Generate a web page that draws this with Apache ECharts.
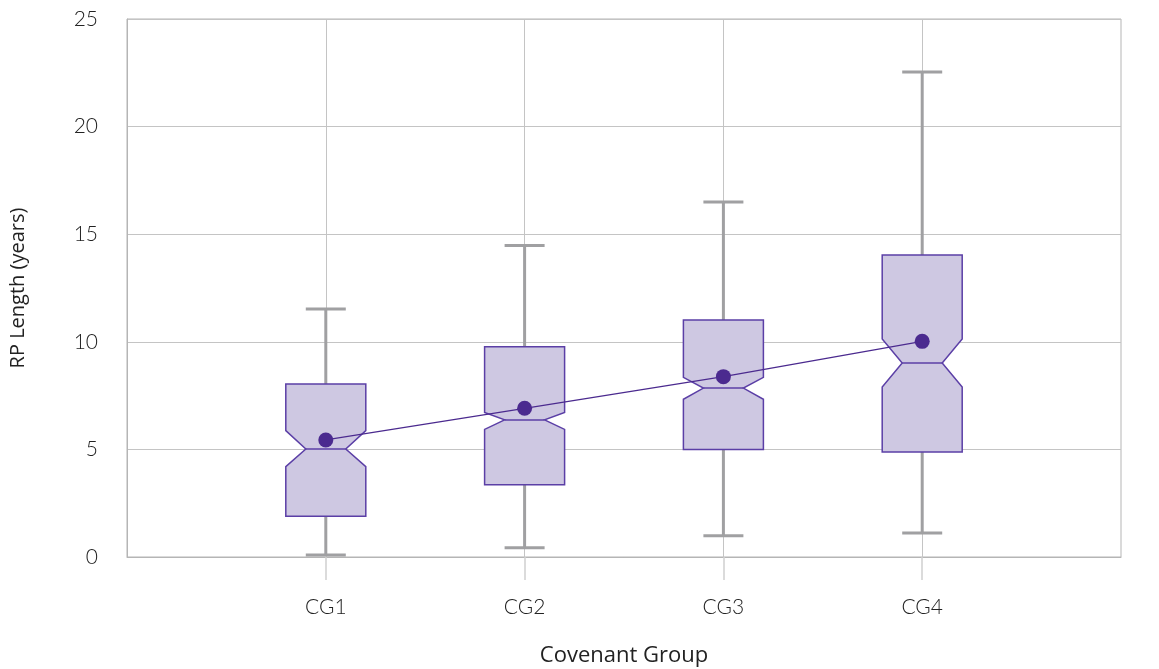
<!DOCTYPE html>
<html>
<head>
<meta charset="utf-8">
<script src="https://cdn.jsdelivr.net/npm/echarts@6/dist/echarts.min.js"></script>
<style>
html,body{margin:0;padding:0;background:#fff;}
#main{width:1159px;height:669px;}
</style>
</head>
<body>
<div id="main"></div>
<script>
const categories = ['CG1', 'CG2', 'CG3', 'CG4'];
const whiskerMin = [0.09, 0.43, 0.99, 1.12];
const q1 = [1.89, 3.36, 4.99, 4.88];
const notchLow = [4.20, 5.93, 7.33, 7.90];
const median = [5.02, 6.37, 7.85, 9.01];
const notchHigh = [5.87, 6.72, 8.35, 10.13];
const q3 = [8.04, 9.77, 11.01, 14.03];
const whiskerMax = [11.52, 14.47, 16.50, 22.54];
const means = [5.44, 6.91, 8.38, 10.02];
const yTicks = [0, 5, 10, 15, 20, 25];

const axisCats = [''].concat(categories, ['']);
const boxData = categories.map((c, i) => [i + 1, whiskerMin[i], q1[i], notchLow[i], median[i], notchHigh[i], q3[i], whiskerMax[i]]);
const meanData = categories.map((c, i) => [i + 1, means[i]]);

const FONT = 'Lato, "Open Sans", sans-serif';
const NAMEFONT = '"Open Sans", Lato, sans-serif';
const chart = echarts.init(document.getElementById('main'), null, {renderer: 'canvas'});

function renderBox(params, api) {
  const x = api.value(0);
  const p = (v) => api.coord([x, v]);
  const cx = p(0)[0];
  const half = 40, notch = 20, cap = 20;
  const yMin = p(api.value(1))[1], yQ1 = p(api.value(2))[1], yNL = p(api.value(3))[1];
  const yMed = p(api.value(4))[1], yNH = p(api.value(5))[1], yQ3 = p(api.value(6))[1], yMax = p(api.value(7))[1];
  const wStyle = {stroke: '#a0a0a2', lineWidth: 3};
  return {
    type: 'group',
    children: [
      {type: 'line', shape: {x1: cx, y1: yQ3, x2: cx, y2: yMax}, style: wStyle},
      {type: 'line', shape: {x1: cx, y1: yQ1, x2: cx, y2: yMin}, style: wStyle},
      {type: 'line', shape: {x1: cx - cap, y1: yMax, x2: cx + cap, y2: yMax}, style: wStyle},
      {type: 'line', shape: {x1: cx - cap, y1: yMin, x2: cx + cap, y2: yMin}, style: wStyle},
      {type: 'polygon', shape: {points: [
        [cx - half, yQ3], [cx + half, yQ3], [cx + half, yNH], [cx + half - notch, yMed],
        [cx + half, yNL], [cx + half, yQ1], [cx - half, yQ1], [cx - half, yNL],
        [cx - half + notch, yMed], [cx - half, yNH]
      ]}, style: {fill: '#cec8e2', stroke: '#5b3fa6', lineWidth: 1.5}},
      {type: 'line', shape: {x1: cx - half + notch, y1: yMed, x2: cx + half - notch, y2: yMed}, style: {stroke: '#5b3fa6', lineWidth: 1.5}}
    ]
  };
}

chart.setOption({
  animation: false,
  grid: {left: 127, right: 38, top: 19, bottom: 112, containLabel: false, outerBoundsMode: 'none', show: true, borderColor: '#b5b5b5', borderWidth: 1, backgroundColor: 'transparent'},
  xAxis: {
    type: 'category',
    data: axisCats,
    boundaryGap: false,
    name: 'Covenant Group',
    nameLocation: 'middle',
    nameGap: 88,
    nameTextStyle: {fontFamily: NAMEFONT, fontSize: 22, color: '#222', fontWeight: 500},
    axisLine: {show: true, lineStyle: {color: '#b5b5b5', width: 1}},
    axisTick: {show: true, length: 23, interval: (i) => i > 0 && i <= categories.length, lineStyle: {color: '#cfcfcf', width: 1.5}},
    axisLabel: {fontFamily: FONT, fontSize: 21, color: '#222', fontWeight: 300, margin: 40, interval: 0},
    splitLine: {show: true, interval: (i) => i > 0 && i <= categories.length, lineStyle: {color: '#c4c4c4', width: 1}}
  },
  yAxis: {
    type: 'value',
    min: yTicks[0],
    max: yTicks[yTicks.length - 1],
    interval: 5,
    name: 'RP Length (years)',
    nameLocation: 'middle',
    nameGap: 99,
    nameTextStyle: {fontFamily: NAMEFONT, fontSize: 20, color: '#222', fontWeight: 500},
    axisLine: {show: true, lineStyle: {color: '#b5b5b5', width: 1}},
    axisTick: {show: false},
    axisLabel: {fontFamily: FONT, fontSize: 21, color: '#222', fontWeight: 300, margin: 29},
    splitLine: {show: true, lineStyle: {color: '#c4c4c4', width: 1}}
  },
  series: [
    {
      type: 'custom',
      renderItem: renderBox,
      encode: {x: 0, y: [1, 2, 3, 4, 5, 6, 7]},
      data: boxData,
      z: 2
    },
    {
      type: 'line',
      data: meanData,
      symbol: 'circle',
      symbolSize: 15,
      itemStyle: {color: '#4b2a8f'},
      lineStyle: {color: '#4b2a8f', width: 1.2},
      z: 5
    }
  ]
});
</script>
</body>
</html>
